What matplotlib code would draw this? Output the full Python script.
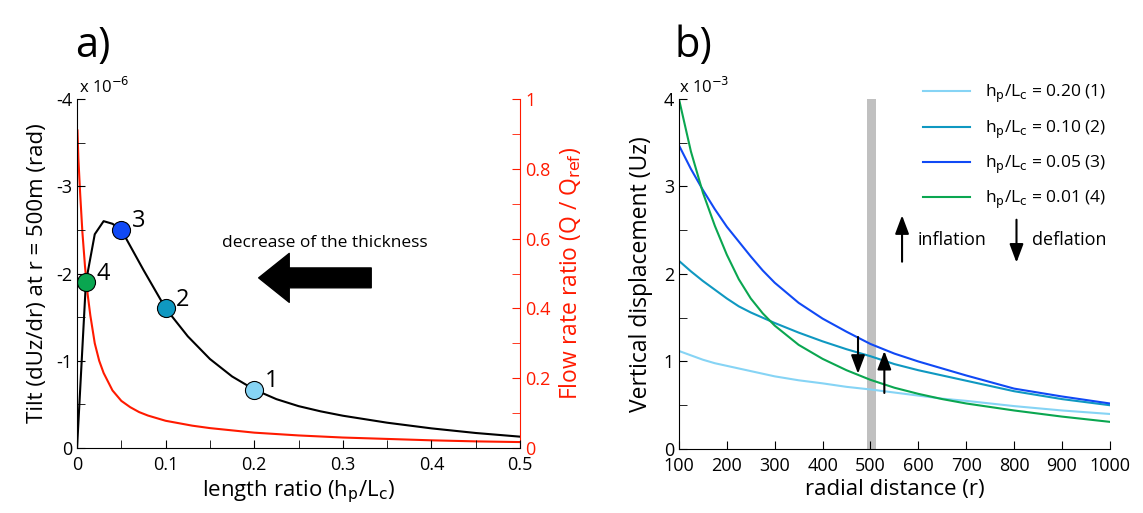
import numpy as np
import matplotlib
matplotlib.use('Agg')
from matplotlib import pyplot as plt
from matplotlib.lines import Line2D

plt.rcParams['font.family'] = ['Open Sans', 'DejaVu Sans']
plt.rcParams['axes.unicode_minus'] = False
plt.rcParams['xtick.direction'] = 'in'
plt.rcParams['ytick.direction'] = 'in'

# ---- panel a) : tilt at r = 500 m and flow-rate ratio vs length ratio
tilt_ratio = [0, 0.01, 0.02, 0.03, 0.04, 0.05, 0.075, 0.1, 0.125, 0.15, 0.175,
              0.2, 0.225, 0.25, 0.275, 0.3, 0.35, 0.4, 0.45, 0.5]
tilt = [0, -1.9, -2.45, -2.6, -2.57, -2.5, -2.04, -1.6, -1.28, -1.02, -0.82,
        -0.67, -0.56, -0.48, -0.42, -0.37, -0.29, -0.225, -0.172, -0.13]

flow_ratio = [0.0005, 0.0015, 0.0035, 0.006, 0.009, 0.012, 0.015, 0.02, 0.025,
              0.03, 0.04, 0.05, 0.06, 0.07, 0.08, 0.1, 0.13, 0.15, 0.2, 0.25,
              0.3, 0.35, 0.4, 0.45, 0.5]
flow = [0.91, 0.83, 0.73, 0.62, 0.52, 0.44, 0.38, 0.30, 0.25, 0.215, 0.165,
        0.135, 0.117, 0.103, 0.093, 0.078, 0.064, 0.057, 0.044, 0.036, 0.03,
        0.026, 0.022, 0.019, 0.017]

case_ratio = [0.2, 0.1, 0.05, 0.01]
case_tilt = [-0.67, -1.6, -2.5, -1.9]
case_names = ['1', '2', '3', '4']
case_colors = ['#86d4f5', '#0f98c1', '#1049f5', '#0aa650']

# ---- panel b) : vertical displacement vs radial distance
radius = [100, 125, 150, 175, 200, 225, 250, 275, 300, 350, 400, 450, 500,
          550, 600, 650, 700, 800, 900, 1000]
uz_020 = [1.12, 1.07, 1.02, 0.98, 0.95, 0.92, 0.89, 0.86, 0.83, 0.785, 0.75,
          0.71, 0.68, 0.645, 0.61, 0.575, 0.55, 0.49, 0.44, 0.40]
uz_010 = [2.15, 2.03, 1.92, 1.82, 1.72, 1.63, 1.56, 1.5, 1.44, 1.33, 1.23,
          1.14, 1.06, 0.97, 0.9, 0.84, 0.78, 0.66, 0.57, 0.5]
uz_005 = [3.47, 3.2, 2.96, 2.74, 2.54, 2.37, 2.2, 2.04, 1.9, 1.67, 1.49,
          1.34, 1.2, 1.09, 1.0, 0.92, 0.84, 0.69, 0.6, 0.52]
uz_001 = [4.0, 3.4, 2.93, 2.55, 2.22, 1.94, 1.72, 1.55, 1.41, 1.19, 1.03,
          0.9, 0.79, 0.7, 0.63, 0.57, 0.52, 0.44, 0.37, 0.31]
series_labels = [r'h$_\mathrm{p}$/L$_\mathrm{c}$ = 0.20 (1)',
                 r'h$_\mathrm{p}$/L$_\mathrm{c}$ = 0.10 (2)',
                 r'h$_\mathrm{p}$/L$_\mathrm{c}$ = 0.05 (3)',
                 r'h$_\mathrm{p}$/L$_\mathrm{c}$ = 0.01 (4)']

fig = plt.figure(figsize=(11.43, 5.13), dpi=100)

# ---------------- a)
ax = fig.add_axes([0.0674, 0.1267, 0.3876, 0.6803])
ax2 = ax.twinx()
ax.set_zorder(ax2.get_zorder() + 1)
ax.patch.set_visible(False)

ax2.plot(flow_ratio, flow, color='#ff1a00', lw=1.5)
ax2.set_ylim(0, 1)
ax2.set_yticks(np.arange(0, 1.01, 0.2))
ax2.set_yticklabels(['0', '0.2', '0.4', '0.6', '0.8', '1'])
ax2.set_yticks(np.arange(0, 1.01, 0.1), minor=True)
ax2.tick_params(axis='y', colors='#ff1a00', labelsize=13, length=6,
                which='both')
ax2.spines['right'].set_color('#ff1a00')
for s in ['top', 'left', 'bottom']:
    ax2.spines[s].set_visible(False)
ax2.set_ylabel(r'Flow rate ratio (Q / Q$_\mathrm{ref}$)', color='#ff1a00',
               fontsize=16.5, labelpad=5)

ax.plot(tilt_ratio, tilt, color='k', lw=1.5)
for xr, yt, nm, c in zip(case_ratio, case_tilt, case_names, case_colors):
    ax.plot(xr, yt, 'o', ms=13, mfc=c, mec='k', mew=0.8)
    ax.text(xr + 0.012, yt - 0.1, nm, fontsize=17, va='center', ha='left')

ax.set_xlim(0, 0.5)
ax.set_ylim(0, -4)
ax.set_xticks(np.arange(0, 0.51, 0.1))
ax.set_xticklabels(['0', '0.1', '0.2', '0.3', '0.4', '0.5'])
ax.set_xticks(np.arange(0, 0.51, 0.05), minor=True)
ax.set_yticks([0, -1, -2, -3, -4])
ax.set_yticks(np.arange(0, -4.01, -0.5), minor=True)
ax.tick_params(labelsize=13, length=6, which='both')
ax.tick_params(axis='x', pad=6)
for s in ['top', 'right']:
    ax.spines[s].set_visible(False)
ax.set_xlabel(r'length ratio (h$_\mathrm{p}$/L$_\mathrm{c}$)', fontsize=16,
              labelpad=3)
ax.set_ylabel('Tilt (dUz/dr) at r = 500m (rad)', fontsize=16, labelpad=6)
ax.text(0.005, 1.005, r'x 10$^{-6}$', transform=ax.transAxes, fontsize=12,
        va='bottom', ha='left')

ax.annotate('', xy=(0.205, -1.95), xytext=(0.332, -1.95),
            arrowprops=dict(arrowstyle='simple,head_length=1.0,head_width=1.6,tail_width=0.65',
                            color='k', mutation_scale=22, shrinkA=0, shrinkB=0))
ax.text(0.28, -2.35, 'decrease of the thickness', fontsize=12.5,
        ha='center', va='center')

# ---------------- b)
bx = fig.add_axes([0.594, 0.1248, 0.377, 0.6823])
bx.axvspan(492, 512, color='#c0c0c0', lw=0)
uz_all = [uz_020, uz_010, uz_005, uz_001]
for uz, c in zip(uz_all, case_colors):
    bx.plot(radius, uz, color=c, lw=1.5)

bx.set_xlim(100, 1000)
bx.set_ylim(0, 4)
bx.set_xticks(np.arange(100, 1001, 100))
bx.set_yticks([0, 1, 2, 3, 4])
bx.set_yticks(np.arange(0, 4.01, 0.5), minor=True)
bx.tick_params(labelsize=13, length=6, which='both')
bx.tick_params(axis='x', pad=6)
for s in ['top', 'right']:
    bx.spines[s].set_visible(False)
bx.set_xlabel('radial distance (r)', fontsize=16, labelpad=3)
bx.set_ylabel('Vertical displacement (Uz)', fontsize=16.5, labelpad=8)
bx.text(0.0, 1.005, r'x 10$^{-3}$', transform=bx.transAxes, fontsize=12,
        va='bottom', ha='left')

handles = [Line2D([], [], color=c, lw=1.5) for c in case_colors]
bx.legend(handles, series_labels, loc='upper left',
          bbox_to_anchor=(0.566, 1.045), frameon=False, fontsize=12.5,
          handlelength=2.7, handletextpad=0.9, labelspacing=0.75,
          borderpad=0, borderaxespad=0)

arrow_kw = dict(arrowstyle='-|>,head_length=0.8,head_width=0.3', color='k',
                lw=1.5, mutation_scale=14, shrinkA=0, shrinkB=0)
bx.annotate('', xy=(474, 0.86), xytext=(474, 1.28), arrowprops=arrow_kw)
bx.annotate('', xy=(529, 1.12), xytext=(529, 0.64), arrowprops=arrow_kw)
bx.annotate('', xy=(566, 2.67), xytext=(566, 2.14), arrowprops=arrow_kw)
bx.annotate('', xy=(805, 2.13), xytext=(805, 2.62), arrowprops=arrow_kw)
bx.text(598, 2.39, 'inflation', fontsize=13, va='center', ha='left')
bx.text(838, 2.39, 'deflation', fontsize=13, va='center', ha='left')

fig.text(0.081, 0.91, 'a)', fontsize=30, ha='center', va='center')
fig.text(0.607, 0.91, 'b)', fontsize=30, ha='center', va='center')

fig.savefig('out.png', dpi=100)
